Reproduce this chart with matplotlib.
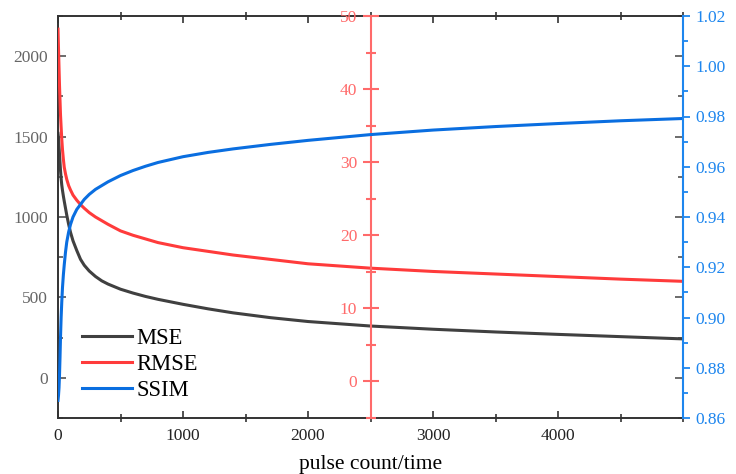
import numpy as np
import matplotlib.pyplot as plt
from matplotlib.ticker import MultipleLocator, FixedLocator, FormatStrFormatter

plt.rcParams['font.family'] = ['Liberation Serif', 'DejaVu Serif']

# valores
pulse = [0, 4, 8, 12, 16, 20, 25, 30, 36, 43, 50, 60, 70, 85, 100, 120, 150,
         180, 210, 250, 300, 350, 400, 500, 600, 700, 800, 1000, 1200, 1400,
         1700, 2000, 2500, 3000, 3500, 4000, 4500, 4999]
mse = [1520, 1490, 1440, 1390, 1340, 1290, 1240, 1200, 1165, 1130, 1098, 1055,
       1012, 955, 905, 852, 792, 737, 700, 664, 630, 603, 583, 551, 527, 506,
       488, 457, 429, 404, 374, 350, 322, 302, 285, 270, 256, 242]
rmse = [48.2, 45.5, 43.0, 40.5, 38.5, 36.5, 34.8, 33.2, 31.7, 30.4, 29.3, 28.4,
        27.65, 26.8, 26.2, 25.5, 24.8, 24.2, 23.7, 23.1, 22.5, 22.0, 21.5, 20.6,
        20.0, 19.5, 19.0, 18.3, 17.8, 17.3, 16.7, 16.1, 15.5, 15.05, 14.7, 14.35,
        14.0, 13.7]
ssim = [0.867, 0.869, 0.872, 0.877, 0.884, 0.892, 0.900, 0.906, 0.912, 0.917,
        0.921, 0.926, 0.930, 0.934, 0.937, 0.940, 0.943, 0.945, 0.947, 0.949,
        0.951, 0.9525, 0.954, 0.9565, 0.9585, 0.9602, 0.9617, 0.964, 0.9657,
        0.9671, 0.9689, 0.9705, 0.9728, 0.9746, 0.976, 0.9772, 0.9783, 0.9792]

x_ticks = [0, 1000, 2000, 3000, 4000]

c_mse = '#404040'
c_rmse = '#ff3b3b'
c_ssim = '#0a6ee0'
c_raxis = '#ff6a6a'
c_baxis = '#1e86ee'

fig = plt.figure(figsize=(7.36, 4.74), dpi=100)
ax = fig.add_axes([58/736, 56/474, 625/736, 402/474])
axr = ax.twinx()
axb = ax.twinx()

l1, = ax.plot(pulse, mse, color=c_mse, lw=2.2, label='MSE')
l2, = axr.plot(pulse, rmse, color=c_rmse, lw=2.2, label='RMSE')
l3, = axb.plot(pulse, ssim, color=c_ssim, lw=2.2, label='SSIM')

# eje principal (MSE)
ax.set_xlim(0, 5000)
ax.set_ylim(-250, 2250)
ax.xaxis.set_major_locator(FixedLocator(x_ticks))
ax.xaxis.set_minor_locator(MultipleLocator(500))
ax.yaxis.set_major_locator(MultipleLocator(500))
ax.yaxis.set_minor_locator(MultipleLocator(250))
for s in ax.spines.values():
    s.set_color('#333333')
    s.set_linewidth(1.4)
ax.tick_params(axis='x', which='major', direction='in', length=5, width=1.1,
               top=True, pad=7, labelsize=12.5, labelcolor='#222222', color='#222222')
ax.tick_params(axis='x', which='minor', direction='inout', length=6, width=1.1,
               top=True, color='#222222')
ax.tick_params(axis='y', which='major', direction='in', length=6, width=1.1,
               left=True, right=True, pad=7, labelsize=12.5, labelcolor='#666666',
               color='#444444')
ax.tick_params(axis='y', which='minor', direction='in', length=3.5, width=1.1,
               left=True, right=True, color='#444444')
ax.set_xlabel('pulse count/time', fontsize=15.5, labelpad=8)

# eje rojo en el medio (RMSE)
axr.set_ylim(-5, 50)
for k in ['right', 'top', 'bottom']:
    axr.spines[k].set_visible(False)
axr.spines['left'].set_visible(True)
axr.spines['left'].set_position(('data', 2500))
axr.spines['left'].set_color(c_raxis)
axr.spines['left'].set_linewidth(1.5)
axr.yaxis.tick_left()
axr.yaxis.set_major_locator(MultipleLocator(10))
axr.yaxis.set_minor_locator(MultipleLocator(5))
axr.tick_params(axis='y', which='major', direction='inout', length=11, width=1.5,
                color=c_raxis, labelcolor=c_raxis, labelsize=12.5, pad=4)
axr.tick_params(axis='y', which='minor', direction='inout', length=6.5, width=1.5,
                color=c_raxis)

# eje azul a la derecha (SSIM)
axb.set_ylim(0.86, 1.02)
for k in ['left', 'top', 'bottom']:
    axb.spines[k].set_visible(False)
axb.spines['right'].set_color(c_baxis)
axb.spines['right'].set_linewidth(1.5)
axb.yaxis.set_major_locator(MultipleLocator(0.02))
axb.yaxis.set_minor_locator(MultipleLocator(0.01))
axb.yaxis.set_major_formatter(FormatStrFormatter('%.2f'))
axb.tick_params(axis='y', which='major', direction='out', length=5, width=1.3,
                color=c_baxis, labelcolor=c_baxis, labelsize=12.5, pad=4)
axb.tick_params(axis='y', which='minor', direction='out', length=3.5, width=1.3,
                color=c_baxis)

axb.legend([l1, l2, l3], ['MSE', 'RMSE', 'SSIM'], loc='lower left',
           bbox_to_anchor=(0.038, 0.0415), frameon=False, fontsize=16.3,
           handlelength=2.2, handletextpad=0.22, labelspacing=0.23,
           borderpad=0, borderaxespad=0)

fig.savefig('out.png', dpi=100)
